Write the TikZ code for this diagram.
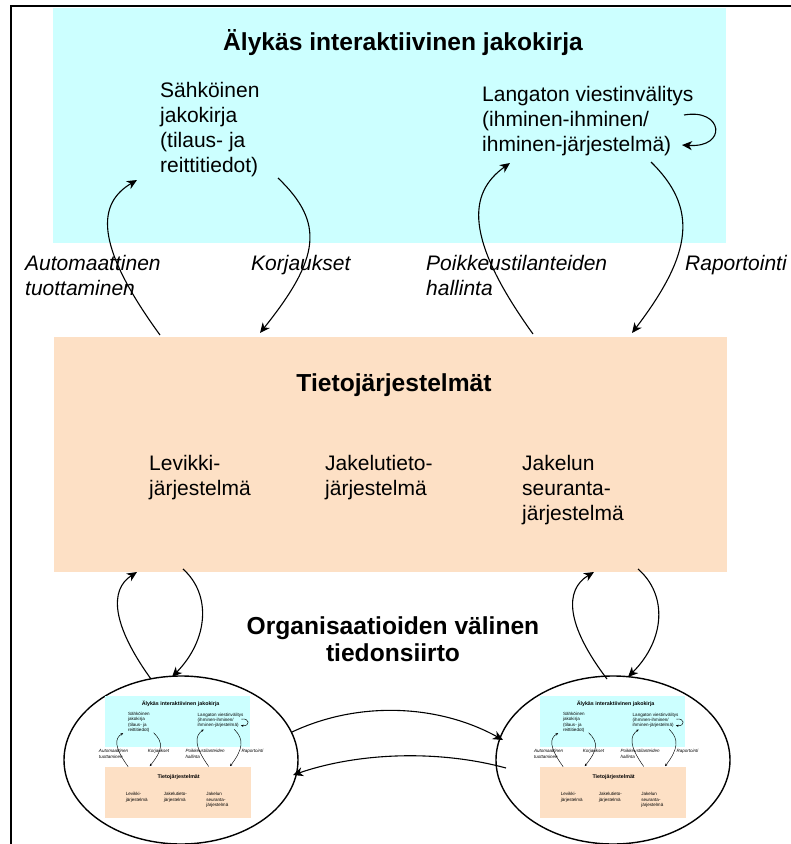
\documentclass[tikz,border=0pt]{standalone}
\usepackage{fontspec}
\setmainfont{Liberation Sans}
\usetikzlibrary{arrows.meta,shapes.geometric}

\definecolor{kirjacyan}{RGB}{204,255,255}
\definecolor{tietopeach}{RGB}{253,224,197}

\tikzset{
  panel/.style={inner sep=0pt, outer sep=0pt, anchor=north west,
    minimum width=673pt, minimum height=235pt},
  head/.style={font=\fontsize{24.6}{27}\selectfont\bfseries, inner sep=0pt,
    anchor=base, align=center},
  body/.style={font=\fontsize{21}{25}\selectfont, inner sep=0pt,
    anchor=base west, align=left},
  tag/.style={body, font=\fontsize{21}{25}\selectfont\itshape},
  flow/.style={line width=1.1pt, -{Stealth[length=10pt,width=9pt,inset=3pt]}},
  orgring/.style={draw, ellipse, line width=1.4pt, inner sep=0pt,
    minimum width=234pt, minimum height=168pt}
}

% One complete "smart delivery book" panel: the book on top, the
% information systems below and the four flows between them.
% Local origin is the top-left corner of the upper panel; multi-line
% texts are placed by the baseline of their last line.
\newcommand\jakokirjakuva{%
  \node[panel, fill=kirjacyan] (kirja) at (0,0) {};
  \node[panel, fill=tietopeach] (tieto) at (1,329) {};
  \node[head] (kirjaotsikko) at (350,42) {Älykäs interaktiivinen jakokirja};
  \node[body] (sahkoinen) at (107,164)
    {Sähköinen\\jakokirja\\(tilaus- ja\\reittitiedot)};
  \node[body] (langaton) at (429,143)
    {Langaton viestinvälitys\\(ihminen-ihminen/\\ihminen-järjestelmä)};
  \node[tag] (automaattinen) at (-28,287) {Automaattinen\\tuottaminen};
  \node[tag] (korjaukset) at (198,262) {Korjaukset};
  \node[tag] (poikkeus) at (373,287) {Poikkeustilanteiden\\hallinta};
  \node[tag] (raportointi) at (632,262) {Raportointi};
  \node[head] (tietootsikko) at (341,383) {Tietojärjestelmät};
  \node[body] (levikki) at (96,487) {Levikki-\\järjestelmä};
  \node[body] (jakelutieto) at (272,487) {Jakelutieto-\\järjestelmä};
  \node[body] (seuranta) at (469,512) {Jakelun\\seuranta-\\järjestelmä};
  % flow end points on the panel edges
  \coordinate (autoAla) at (107,327);
  \coordinate (autoYla) at (84,172);
  \coordinate (korjYla) at (225,170);
  \coordinate (korjAla) at (207,325);
  \coordinate (poikAla) at (480,326);
  \coordinate (poikYla) at (457,155);
  \coordinate (rapYla) at (598,154);
  \coordinate (rapAla) at (579,325);
  \coordinate (silmukkaA) at (631,107);
  \coordinate (silmukkaB) at (629,137);
  \draw[flow] (autoAla) .. controls (40,235) and (45,195) .. (autoYla);
  \draw[flow] (korjYla) .. controls (272,215) and (267,250) .. (korjAla);
  \draw[flow] (poikAla) .. controls (411,230) and (415,185) .. (poikYla);
  \draw[flow] (rapYla) .. controls (645,200) and (640,245) .. (rapAla);
  \draw[flow] (silmukkaA) .. controls (670,100) and (675,140) .. (silmukkaB);
}

\begin{document}
\begin{tikzpicture}[x=1pt, y=-1pt]
  \useasboundingbox (0,0) rectangle (791,844);

  % frame
  \draw[line width=2pt] (10.5,844) -- (10.5,6) -- (791,6);

  % main panel
  \begin{scope}[shift={(53,8)}, name prefix=main-]
    \jakokirjakuva
  \end{scope}

  % organisations and their own reduced panels
  \node[orgring] (orgL) at (181,760) {};
  \node[orgring] (orgR) at (613,760) {};
  \begin{scope}[shift={(105,696)}, scale=0.216, transform shape,
      name prefix=miniL-,
      flow/.style={line width=0.45pt, -{Stealth[length=2.6pt,width=2.3pt,inset=0.8pt]}}]
    \jakokirjakuva
  \end{scope}
  \begin{scope}[shift={(540,696)}, scale=0.216, transform shape,
      name prefix=miniR-,
      flow/.style={line width=0.45pt, -{Stealth[length=2.6pt,width=2.3pt,inset=0.8pt]}}]
    \jakokirjakuva
  \end{scope}

  \node[head] (siirto) at (393,661) {Organisaatioiden välinen\\tiedonsiirto};

  % exchanges between the organisations and the information systems
  \coordinate (lYlos0) at (151,679);
  \coordinate (lYlos1) at (137,572);
  \coordinate (lAlas0) at (183,569);
  \coordinate (lAlas1) at (172,677);
  \coordinate (rYlos0) at (607,679);
  \coordinate (rYlos1) at (594,572);
  \coordinate (rAlas0) at (638,569);
  \coordinate (rAlas1) at (628,677);
  \draw[flow] (lYlos0) .. controls (112,625) and (109,590) .. (lYlos1);
  \draw[flow] (lAlas0) .. controls (212,595) and (208,640) .. (lAlas1);
  \draw[flow] (rYlos0) .. controls (566,625) and (564,590) .. (rYlos1);
  \draw[flow] (rAlas0) .. controls (668,595) and (665,640) .. (rAlas1);

  % exchange between the two organisations
  \coordinate (vasenUlos) at (292,732);
  \coordinate (oikeaSisaan) at (503,740);
  \coordinate (oikeaUlos) at (506,768);
  \coordinate (vasenSisaan) at (293,775);
  \draw[flow] (vasenUlos) .. controls (360,700) and (440,705) .. (oikeaSisaan);
  \draw[flow] (oikeaUlos) .. controls (440,750) and (360,752) .. (vasenSisaan);
\end{tikzpicture}
\end{document}
